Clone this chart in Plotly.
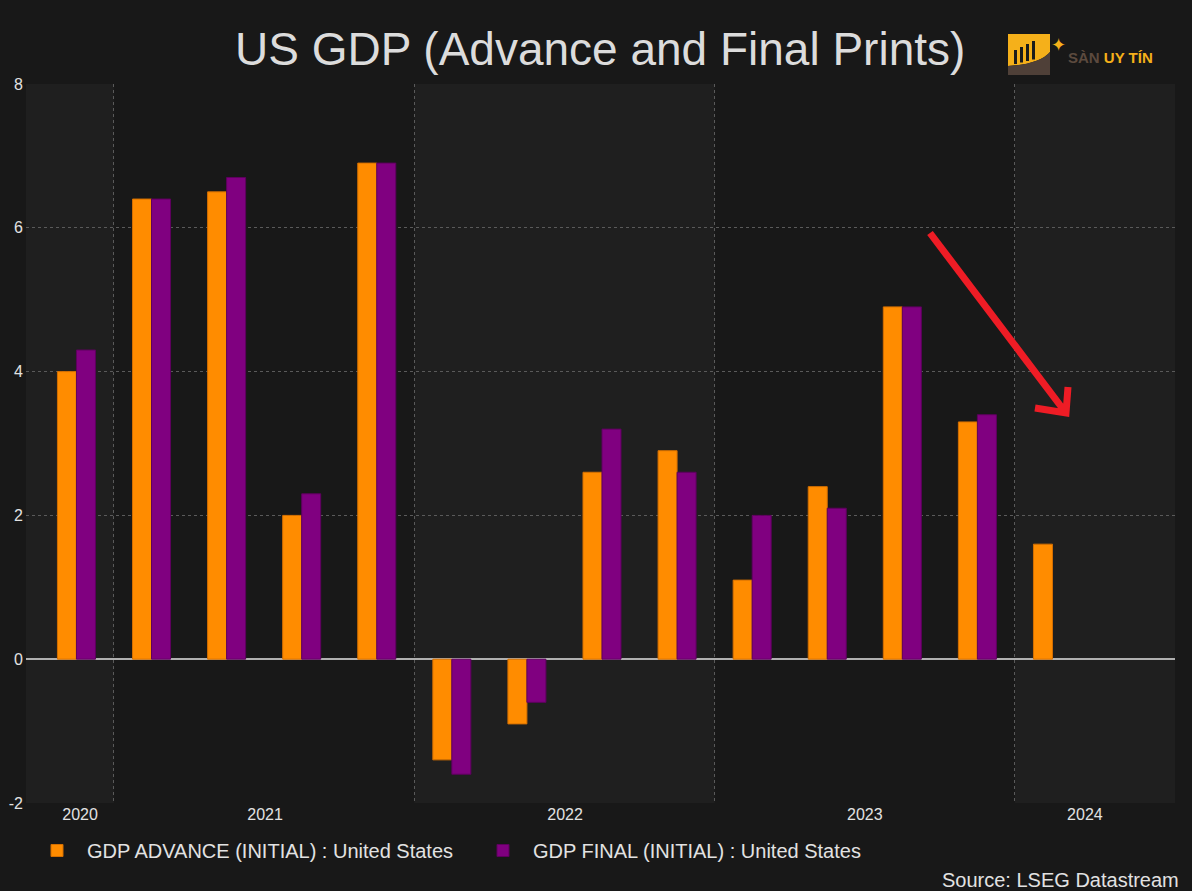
import plotly.graph_objects as go

# ---------------- data ----------------
quarters = ["2020 Q4", "2021 Q1", "2021 Q2", "2021 Q3", "2021 Q4",
            "2022 Q1", "2022 Q2", "2022 Q3", "2022 Q4",
            "2023 Q1", "2023 Q2", "2023 Q3", "2023 Q4", "2024 Q1"]
gdp_advance = [4.0, 6.4, 6.5, 2.0, 6.9, -1.4, -0.9, 2.6, 2.9, 1.1, 2.4, 4.9, 3.3, 1.6]
gdp_final = [4.3, 6.4, 6.7, 2.3, 6.9, -1.6, -0.6, 3.2, 2.6, 2.0, 2.1, 4.9, 3.4, None]
year_labels = ["2020", "2021", "2022", "2023", "2024"]
year_label_pos = [2020.887, 2021.503, 2022.502, 2023.5, 2024.233]
year_bounds = [2021, 2022, 2023, 2024]
y_ticks = [-2, 0, 2, 4, 6, 8]
y_ticktext = ["-2", "0", "2", "4", "6", "8"]

# quarter -> fractional year (middle of quarter)
xq = [int(q[:4]) + (int(q[-1]) - 0.5) / 4 for q in quarters]

# ---------------- layout geometry ----------------
W, H = 1192, 891
PL, PR, PT, PB = 26, 1175, 84, 803
X0, X1 = 2020.707, 2024.533
BW = 0.0633

def xp(px):
    return (px - PL) / (PR - PL)

def yp(py):
    return (PB - py) / (PB - PT)

BG = "#181818"
BAND = "#1f1f1f"
TXT = "#e2e2e2"
FONT = "Liberation Sans, Arial, sans-serif"

fig = go.Figure()
fig.add_trace(go.Bar(
    x=xq, y=gdp_advance, name="GDP ADVANCE (INITIAL) : United States",
    width=BW, offset=-BW, marker=dict(color="#FF8C00", line=dict(color="#d46f00", width=1)),
))
fig.add_trace(go.Bar(
    x=xq, y=gdp_final, name="GDP FINAL (INITIAL) : United States",
    width=BW, offset=0, marker=dict(color="#800080", line=dict(color="#5e005e", width=1)),
))

shapes = []
# alternating year bands (lighter)
for a, b in [(X0, 2021), (2022, 2023), (2024, X1)]:
    shapes.append(dict(type="rect", xref="x", yref="paper", x0=a, x1=b, y0=0, y1=1,
                       fillcolor=BAND, line=dict(width=0), layer="below"))

# red arrow (hand-drawn style)
def dx(px):
    return X0 + (px - PL) / (PR - PL) * (X1 - X0)

def dy(py):
    return 8 - (py - PT) / (PB - PT) * 10

tail = (930, 233)
tip = (1066, 413)
arm1 = (1035, 408)
arm2 = (1068, 387)
path = (f"M {dx(tail[0])},{dy(tail[1])} L {dx(tip[0])},{dy(tip[1])} "
        f"M {dx(arm1[0])},{dy(arm1[1])} L {dx(tip[0])},{dy(tip[1])} L {dx(arm2[0])},{dy(arm2[1])}")
shapes.append(dict(type="path", xref="x", yref="y", path=path,
                   line=dict(color="#ee1c25", width=7)))

# logo
shapes.append(dict(type="path", xref="paper", yref="paper",
                   path=(f"M {xp(1008)},{yp(34)} L {xp(1050)},{yp(34)} L {xp(1050)},{yp(52)} "
                         f"Q {xp(1040)},{yp(64)} {xp(1008)},{yp(66)} Z"),
                   fillcolor="#f5b01a", line=dict(width=0)))
shapes.append(dict(type="path", xref="paper", yref="paper",
                   path=(f"M {xp(1008)},{yp(66)} Q {xp(1040)},{yp(64)} {xp(1050)},{yp(52)} "
                         f"L {xp(1050)},{yp(75)} L {xp(1008)},{yp(75)} Z"),
                   fillcolor="#4f4038", line=dict(width=0)))
for bx, btop in [(1014, 50), (1020, 47), (1026, 44), (1032, 41)]:
    shapes.append(dict(type="rect", xref="paper", yref="paper",
                       x0=xp(bx), x1=xp(bx + 3), y0=yp(64 - (bx - 1014) * 0.25), y1=yp(btop),
                       fillcolor="#1b1b1b", line=dict(width=0)))

annotations = [
    dict(text="US GDP (Advance and Final Prints)", xref="paper", yref="paper",
         x=xp(600), y=yp(49), xanchor="center", yanchor="middle", showarrow=False,
         font=dict(family=FONT, size=46, color="#dcdcdc")),
    dict(text="Source: LSEG Datastream", xref="paper", yref="paper",
         x=xp(1181), y=yp(880), xanchor="right", yanchor="middle", showarrow=False,
         font=dict(family=FONT, size=20, color=TXT)),
    dict(text="✦", xref="paper", yref="paper", x=xp(1058), y=yp(45),
         xanchor="center", yanchor="middle", showarrow=False,
         font=dict(family="DejaVu Sans", size=18, color="#f5b01a")),
    dict(text="<b><span style='color:#5c4a3e'>SÀN</span> UY TÍN</b>", xref="paper", yref="paper",
         x=xp(1066), y=yp(57), xanchor="left", yanchor="middle", showarrow=False,
         font=dict(family=FONT, size=15, color="#f5b01a")),
]

fig.update_layout(
    width=W, height=H,
    margin=dict(l=PL, r=W - PR, t=PT, b=H - PB, pad=0, autoexpand=False),
    paper_bgcolor=BG, plot_bgcolor=BG,
    barmode="overlay",
    font=dict(family=FONT, color=TXT, size=16),
    shapes=shapes, annotations=annotations,
    showlegend=True,
    legend=dict(orientation="h", xref="container", yref="container",
                x=27 / W, y=1 - 831 / H, xanchor="left", yanchor="top",
                font=dict(family=FONT, size=20, color=TXT), bgcolor="rgba(0,0,0,0)",
                itemwidth=50, entrywidthmode="pixels", entrywidth=381),
)
fig.update_xaxes(
    range=[X0, X1], showgrid=False, zeroline=False, showline=False,
    tickmode="array", tickvals=year_label_pos, ticktext=year_labels, ticks="",
    tickfont=dict(size=16, color=TXT),
    minor=dict(tickmode="array", tickvals=year_bounds, showgrid=True,
               gridcolor="#5a5a5a", griddash="dot", gridwidth=1, ticks=""),
)
fig.update_yaxes(
    range=[-2, 8], tickmode="array", tickvals=y_ticks, ticktext=y_ticktext, ticks="",
    showgrid=True, gridcolor="#5a5a5a", griddash="dot", gridwidth=1,
    zeroline=True, zerolinecolor="#b0b0b0", zerolinewidth=1.5,
    tickfont=dict(size=16, color=TXT), showline=False, ticklabelstandoff=2,
)

fig.write_html("out.html", config={"displayModeBar": False},
               post_script="document.body.style.margin='0';document.body.style.overflow='hidden';")
